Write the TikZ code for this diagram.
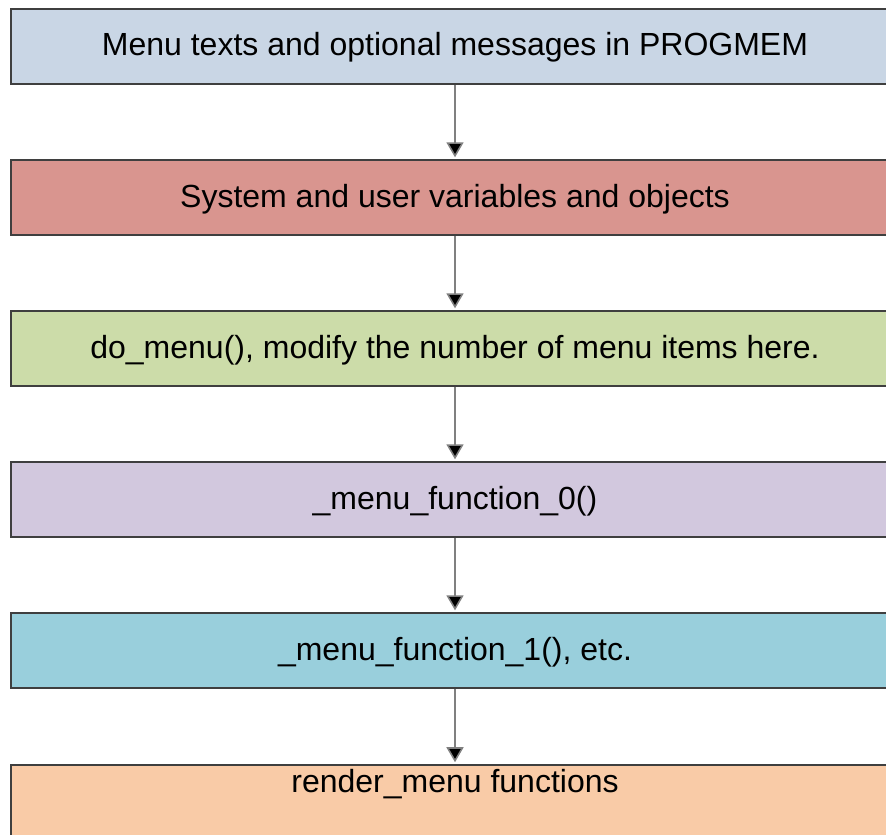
\documentclass[tikz,border=0pt]{standalone}
\usepackage{fontspec}
\setmainfont{Liberation Sans}
\usetikzlibrary{positioning, arrows.meta}

\definecolor{boxblue}{HTML}{C9D6E5}
\definecolor{boxred}{HTML}{D9958F}
\definecolor{boxgreen}{HTML}{CCDCA9}
\definecolor{boxlilac}{HTML}{D2C8DE}
\definecolor{boxcyan}{HTML}{99CFDC}
\definecolor{boxpeach}{HTML}{F9CBA7}
\definecolor{edgegray}{HTML}{3F3F3F}
\definecolor{linegray}{HTML}{808080}

\begin{document}
\begin{tikzpicture}[
    x=0.01cm, y=-0.01cm,
    stage/.style={rectangle, draw=edgegray, line width=0.5pt, minimum width=8.88cm, minimum height=0.75cm, inner sep=0pt, text height=0.25cm, text depth=0.06cm, font=\fontsize{9.1}{11}\selectfont},
    arrow/.style={-{Triangle[width=0.17cm, length=0.15cm, fill=black]}, draw=linegray, line width=0.45pt, shorten >=0.5pt}
]
    \useasboundingbox (0,0) rectangle (886,834);

    % Stages, top to bottom
    \node[stage, fill=boxblue] (texts) at (455, 46.5) {Menu texts and optional messages in PROGMEM};
    \node[stage, fill=boxred] (vars) at (455, 197.5) {System and user variables and objects};
    \node[stage, fill=boxgreen] (domenu) at (455, 348.5) {do\_menu(), modify the number of menu items here.};
    \node[stage, fill=boxlilac] (func0) at (455, 499.5) {\_menu\_function\_0()};
    \node[stage, fill=boxcyan] (func1) at (455, 650.5) {\_menu\_function\_1(), etc.};
    \node[stage, fill=boxpeach, anchor=north, text height=0.28cm, text depth=1cm] (render) at (455, 764) {render\_menu functions};

    % Connections
    \draw[arrow] (texts) -- (vars);
    \draw[arrow] (vars) -- (domenu);
    \draw[arrow] (domenu) -- (func0);
    \draw[arrow] (func0) -- (func1);
    \draw[arrow] (func1) -- (render);

\end{tikzpicture}
\end{document}
